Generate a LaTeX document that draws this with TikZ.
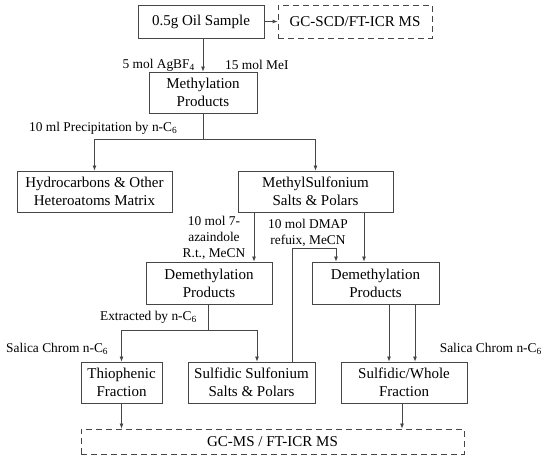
\documentclass[tikz,border=0pt]{standalone}
\usepackage{fontspec}
\setmainfont{Liberation Serif}
\usepackage{xcolor}
\usepackage{tikz}
\usetikzlibrary{positioning,arrows.meta,calc}
\definecolor{linegray}{RGB}{70,70,70}

\begin{document}
\begin{tikzpicture}[x=1pt,y=-1pt,>={Latex[length=5pt,width=4pt]},
  conn/.style={draw=linegray,line width=0.8pt},
  box/.style={draw=linegray,line width=0.8pt,inner sep=0pt,align=center,
    minimum height=41pt,font=\fontsize{15}{18}\selectfont},
  dbox/.style={box,dash pattern=on 6pt off 4pt},
  lbl/.style={inner sep=0pt,align=center,font=\fontsize{13.4}{16}\selectfont}]
  \useasboundingbox (0,0) rectangle (550,462);
  % boxes
  \node[box,minimum width=126pt,minimum height=33pt] (oil) at (201,21.5){0.5g Oil Sample};
  \node[dbox,minimum width=154pt,minimum height=33pt] (gcscd) at (355,21.5){GC-SCD/FT-ICR MS};
  \node[box,minimum width=108pt] (methyl) at (203,92.5){Methylation\\Products};
  \node[box,minimum width=155pt] (hydro) at (94.5,191.5){Hydrocarbons \& Other\\Heteroatoms Matrix};
  \node[box,minimum width=155pt] (msulf) at (315.5,191.5){MethylSulfonium\\Salts \& Polars};
  \node[box,minimum width=126pt,minimum height=42pt] (demL) at (209,283){Demethylation\\Products};
  \node[box,minimum width=127pt,minimum height=42pt] (demR) at (375.5,283){Demethylation\\Products};
  \node[box,minimum width=81pt] (thio) at (121.5,382.5){Thiophenic\\Fraction};
  \node[box,minimum width=127pt] (ssulf) at (251.5,382.5){Sulfidic Sulfonium\\Salts \& Polars};
  \node[box,minimum width=126pt] (swhole) at (404,382.5){Sulfidic/Whole\\Fraction};
  \node[dbox,minimum width=383pt,minimum height=25pt] (gcms) at (272.5,441.5){GC-MS / FT-ICR MS};
  % labels
  \node[lbl,anchor=east] (agbf) at (195,65){5 mol AgBF\textsubscript{4}};
  \node[lbl,anchor=west] (mei) at (225,65){15 mol MeI};
  \node[lbl,anchor=west] (precip) at (29,128){10 ml Precipitation by n-C\textsubscript{6}};
  \node[lbl] (aza) at (214,238){10 mol 7-\\azaindole\\R.t., MeCN};
  \node[lbl] (dmap) at (308,233){10 mol DMAP\\refuix, MeCN};
  \node[lbl,anchor=east] (extr) at (197,317){Extracted by n-C\textsubscript{6}};
  \node[lbl,anchor=west] (chromL) at (6,349){Salica Chrom n-C\textsubscript{6}};
  \node[lbl,anchor=east] (chromR) at (542,349){Salica Chrom n-C\textsubscript{6}};
  % connectors
  \coordinate (split1) at (203,139);
  \coordinate (split2) at (208,330);
  \coordinate (bend) at (336,248);
  \draw[conn,->] (oil) -- (gcscd);
  \draw[conn,->] (methyl.north |- oil.south) -- (methyl.north);
  \draw[conn] (methyl) -- (split1);
  \draw[conn,->] (split1) -| (hydro);
  \draw[conn,->] (split1) -| (msulf);
  \draw[conn,->] ([xshift=-61.5pt]msulf.south) -- ([xshift=-61.5pt]msulf.south |- demL.north);
  \draw[conn,->] ([xshift=48.5pt]msulf.south) -- ([xshift=48.5pt]msulf.south |- demR.north);
  \draw[conn,->] ([xshift=40.5pt]ssulf.north) |- (bend) -- (bend |- demR.north);
  \draw[conn] (split2 |- demL.south) -- (split2);
  \draw[conn,->] (split2) -| (thio);
  \draw[conn,->] (split2) -| ([xshift=5.5pt]ssulf.north);
  \draw[conn,->] ([xshift=13.5pt]demR.south) -- ([xshift=13.5pt]demR.south |- swhole.north);
  \draw[conn,->] ([xshift=39.5pt]demR.south) -- ([xshift=39.5pt]demR.south |- swhole.north);
  \draw[conn,->] (thio) -- (thio |- gcms.north);
  \draw[conn,->] ([xshift=-2pt]swhole.south) -- ([xshift=-2pt]swhole.south |- gcms.north);
\end{tikzpicture}
\end{document}
